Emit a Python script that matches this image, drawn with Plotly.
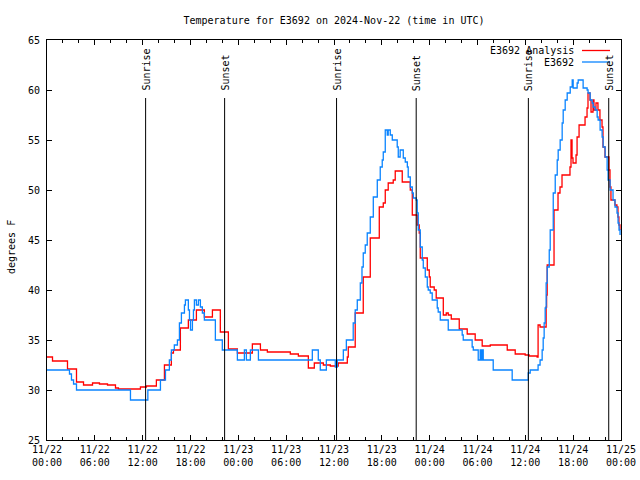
import pandas as pd
import plotly.graph_objects as go

START = "2024-11-22 00:00"

# hours since 2024-11-22 00:00 UTC, and temperatures (deg F)
analysis_hours = [0, 0.69, 2.57, 3.7, 4.58, 5.71, 6.58, 7.59, 8.59, 8.96, 11.72, 12.47, 13.72,
                  14.73, 15.6, 15.86, 16.73, 17.73, 18.74, 19.74, 20.75, 21.74, 22.75, 23.88,
                  25.76, 26.77, 27.64, 30.52, 31.53, 32.78, 33.53, 34.66, 35.54, 36.53, 37.67,
                  37.79, 38.66, 39.67, 40.55, 41.68, 42.18, 42.43, 42.8, 43.43, 43.68, 44.56,
                  45.57, 45.82, 46.44, 46.69, 46.82, 47.7, 47.95, 48.07, 48.57, 48.82, 49.71,
                  50.08, 50.33, 50.71, 51.71, 52.71, 53.71, 54.59, 55.6, 57.73, 58.73, 59.98,
                  60.48, 61.48, 61.6, 61.85, 62.61, 62.67, 62.74, 63.6, 64.1, 64.35, 64.6,
                  65.6, 65.73, 65.86, 65.98, 66.36, 66.49, 66.74, 67.49, 67.74, 67.86, 68.11,
                  68.24, 68.49, 68.61, 68.86, 69.11, 69.36, 69.62, 69.74, 69.99, 70.49, 70.62,
                  70.74, 71.24, 71.49, 71.62, 71.74, 71.87]
analysis_temp = [33.3, 32.9, 32.1, 30.8, 30.5, 30.7, 30.6, 30.5, 30.2, 30.1, 30.3, 30.4, 31.0,
                 32.5, 33.7, 34.0, 36.2, 37.0, 38.0, 37.3, 38.0, 35.8, 34.1, 33.7,
                 34.6, 34.0, 33.8, 33.6, 33.4, 32.2, 32.7, 32.5, 32.4, 32.7, 33.3,
                 34.3, 37.7, 41.3, 45.2, 48.3, 48.7, 50.0, 50.7, 51.0, 51.9, 50.8,
                 50.0, 47.5, 46.5, 45.7, 43.2, 42.0, 41.3, 40.3, 40.0, 39.2, 37.5,
                 37.7, 37.5, 37.1, 36.1, 35.6, 35.0, 34.4, 34.5, 34.0, 33.6, 33.5,
                 33.4, 33.3, 36.5, 36.3, 38.3, 39.5, 42.5, 48.0, 49.7, 50.3, 51.5,
                 52.3, 55.0, 53.2, 52.7, 53.5, 55.3, 56.5, 57.3, 58.2, 59.7, 59.0,
                 57.8, 59.0, 58.0, 58.7, 58.0, 57.0, 56.3, 54.3, 53.3, 52.0, 50.3,
                 49.0, 48.5, 48.3, 47.3, 46.5, 46.0]

obs_hours = [0, 2.82, 3.07, 3.33, 3.7, 10.47, 12.65, 14.23, 14.86, 15.35, 15.6, 15.97, 16.36,
             16.61, 16.86, 17.24, 17.36, 17.73, 17.87, 18.0, 18.24, 18.37, 18.49, 18.74,
             18.99, 19.24, 19.49, 19.74, 21.12, 21.99, 23.88, 24.76, 25.01, 25.51, 26.52,
             33.28, 34.03, 34.28, 35.04, 36.16, 36.41, 37.17, 37.55, 38.41, 38.66, 38.92,
             39.3, 39.51, 39.67, 39.92, 40.17, 40.55, 40.93, 41.43, 41.8, 42.05, 42.18,
             42.43, 42.68, 42.8, 43.06, 43.31, 43.93, 44.06, 44.3, 44.69, 44.94, 45.2,
             45.31, 45.57, 45.82, 45.95, 46.31, 46.44, 46.57, 46.82, 47.07, 47.2, 47.45,
             47.7, 47.82, 48.07, 48.32, 48.95, 49.07, 49.33, 50.33, 52.08, 52.21, 53.33,
             53.47, 54.09, 54.34, 54.46, 54.59, 54.72, 55.97, 58.35, 60.36, 60.61, 61.6,
             61.85, 62.11, 62.24, 62.36, 62.49, 62.61, 62.74, 63.0, 63.12, 63.5, 63.75,
             64.0, 64.12, 64.37, 64.62, 64.75, 65.0, 65.25, 65.63, 65.88, 66.0, 66.5,
             66.63, 67.25, 67.75, 67.87, 68.13, 68.38, 68.51, 68.76, 69.01, 69.13, 69.38,
             69.63, 69.76, 70.01, 70.26, 70.38, 70.63, 71.0, 71.25, 71.5, 71.63, 71.75, 71.88]
obs_temp = [32.0, 31.6, 31.0, 30.6, 30.0, 29.0, 30.0, 31.0, 32.0, 33.0, 34.0, 34.5, 35.0,
            36.7, 37.7, 38.5, 39.0, 38.0, 37.0, 36.0, 37.0, 38.0, 39.0, 38.5,
            39.0, 38.3, 37.7, 37.0, 35.0, 34.0, 33.0, 34.0, 33.0, 34.0, 33.0,
            34.0, 33.0, 32.0, 33.0, 32.3, 33.0, 34.0, 35.0, 36.7, 38.0, 39.0,
            40.7, 42.3, 43.7, 44.5, 45.7, 47.3, 49.3, 51.0, 52.3, 53.0, 53.8,
            56.0, 55.5, 56.0, 55.5, 55.0, 54.3, 53.3, 54.0, 53.2, 52.8, 52.3,
            51.3, 50.3, 49.7, 49.2, 49.0, 47.7, 46.0, 44.3, 43.0, 42.2, 41.3,
            40.3, 40.0, 39.7, 39.0, 38.2, 37.8, 37.0, 36.0, 35.5, 35.0, 34.3,
            34.0, 33.0, 34.0, 33.0, 34.0, 33.0, 32.0, 31.0, 31.7, 32.0, 32.5,
            33.0, 34.0, 35.2, 36.7, 38.2, 40.7, 42.3, 44.0, 46.0, 49.7, 51.5,
            53.0, 54.0, 55.0, 56.7, 58.0, 59.0, 59.7, 60.3, 61.0, 60.2, 60.7,
            61.0, 60.2, 60.0, 59.7, 59.0, 58.7, 58.3, 58.0, 57.3, 57.0, 56.0,
            55.3, 54.3, 53.3, 52.0, 51.0, 50.0, 49.0, 48.3, 47.7, 46.7, 46.0, 45.5]

sun_hours = [12.37, 22.28, 36.32, 46.31, 60.38, 70.46]
sun_labels = ["Sunrise", "Sunset", "Sunrise", "Sunset", "Sunrise", "Sunset"]

series_names = ["E3692 Analysis", "E3692"]
series_colors = ["#ff0000", "#0a84ff"]

base = pd.Timestamp(START)
def to_time(hours):
    return [base + pd.Timedelta(hours=h) for h in hours]

FONT = "DejaVu Sans Mono"
fig = go.Figure()
fig.add_trace(go.Scatter(x=to_time(analysis_hours), y=analysis_temp, mode="lines",
                         line=dict(color=series_colors[0], width=1.3, shape="hv"),
                         name=series_names[0], showlegend=False))
fig.add_trace(go.Scatter(x=to_time(obs_hours), y=obs_temp, mode="lines",
                         line=dict(color=series_colors[1], width=1.3, shape="hv"),
                         name=series_names[1], showlegend=False))

for h, lab in zip(sun_hours, sun_labels):
    t = base + pd.Timedelta(hours=h)
    fig.add_shape(type="line", xref="x", yref="y", x0=t, x1=t, y0=25, y1=59.2,
                  line=dict(color="black", width=1))
    fig.add_annotation(x=t, y=59.7, xref="x", yref="y", text=lab, showarrow=False,
                       textangle=-90, xanchor="center", yanchor="bottom",
                       font=dict(family=FONT, size=10, color="black"))

# legend drawn at top right (text left of sample line)
L, W, T, H = 47, 574, 40, 400
def px(xp):
    return (xp - L) / W
def py(yp):
    return (T + H - yp) / H
for i, (nm, col) in enumerate(zip(series_names, series_colors)):
    yy = py(50.5 + 11.5 * i)
    fig.add_annotation(x=px(576), y=yy, xref="paper", yref="paper", text=nm,
                       showarrow=False, xanchor="right", yanchor="middle",
                       font=dict(family=FONT, size=10, color="black"))
    fig.add_shape(type="line", xref="paper", yref="paper", x0=px(582), x1=px(610),
                  y0=yy, y1=yy, line=dict(color=col, width=1.3))

fig.add_annotation(x=px(11), y=py(247), xref="paper", yref="paper", text="degrees F",
                   showarrow=False, textangle=-90, xanchor="center", yanchor="middle",
                   font=dict(family=FONT, size=10, color="black"))

fig.update_layout(
    width=640, height=480,
    margin=dict(l=L, r=640 - L - W, t=T, b=480 - T - H, autoexpand=False),
    paper_bgcolor="white", plot_bgcolor="white",
    font=dict(family=FONT, size=10, color="black"),
    title=dict(text="Temperature for E3692 on 2024-Nov-22 (time in UTC)",
               x=(L + W / 2) / 640, xanchor="center", y=1 - 20 / 480, yanchor="middle",
               font=dict(family=FONT, size=10, color="black")),
    xaxis=dict(type="date", range=[base, base + pd.Timedelta(hours=72)],
               dtick=6 * 3600 * 1000, tick0=base, tickformat="%m/%d<br>%H:%M",
               ticks="inside", ticklen=5, tickcolor="black", showgrid=False,
               showline=True, linecolor="black", linewidth=1, mirror="ticks",
               zeroline=False,
               minor=dict(dtick=2 * 3600 * 1000, ticks="inside", ticklen=3,
                          tickcolor="black", showgrid=False)),
    yaxis=dict(range=[25, 65], dtick=5, ticks="inside", ticklen=5, tickcolor="black",
               showgrid=False, showline=True, linecolor="black", linewidth=1,
               mirror="ticks", zeroline=False, ticklabelstandoff=4),
)

fig.write_html("out.html", config={"displayModeBar": False},
               post_script="document.body.style.margin='0px';document.body.style.overflow='hidden';")
